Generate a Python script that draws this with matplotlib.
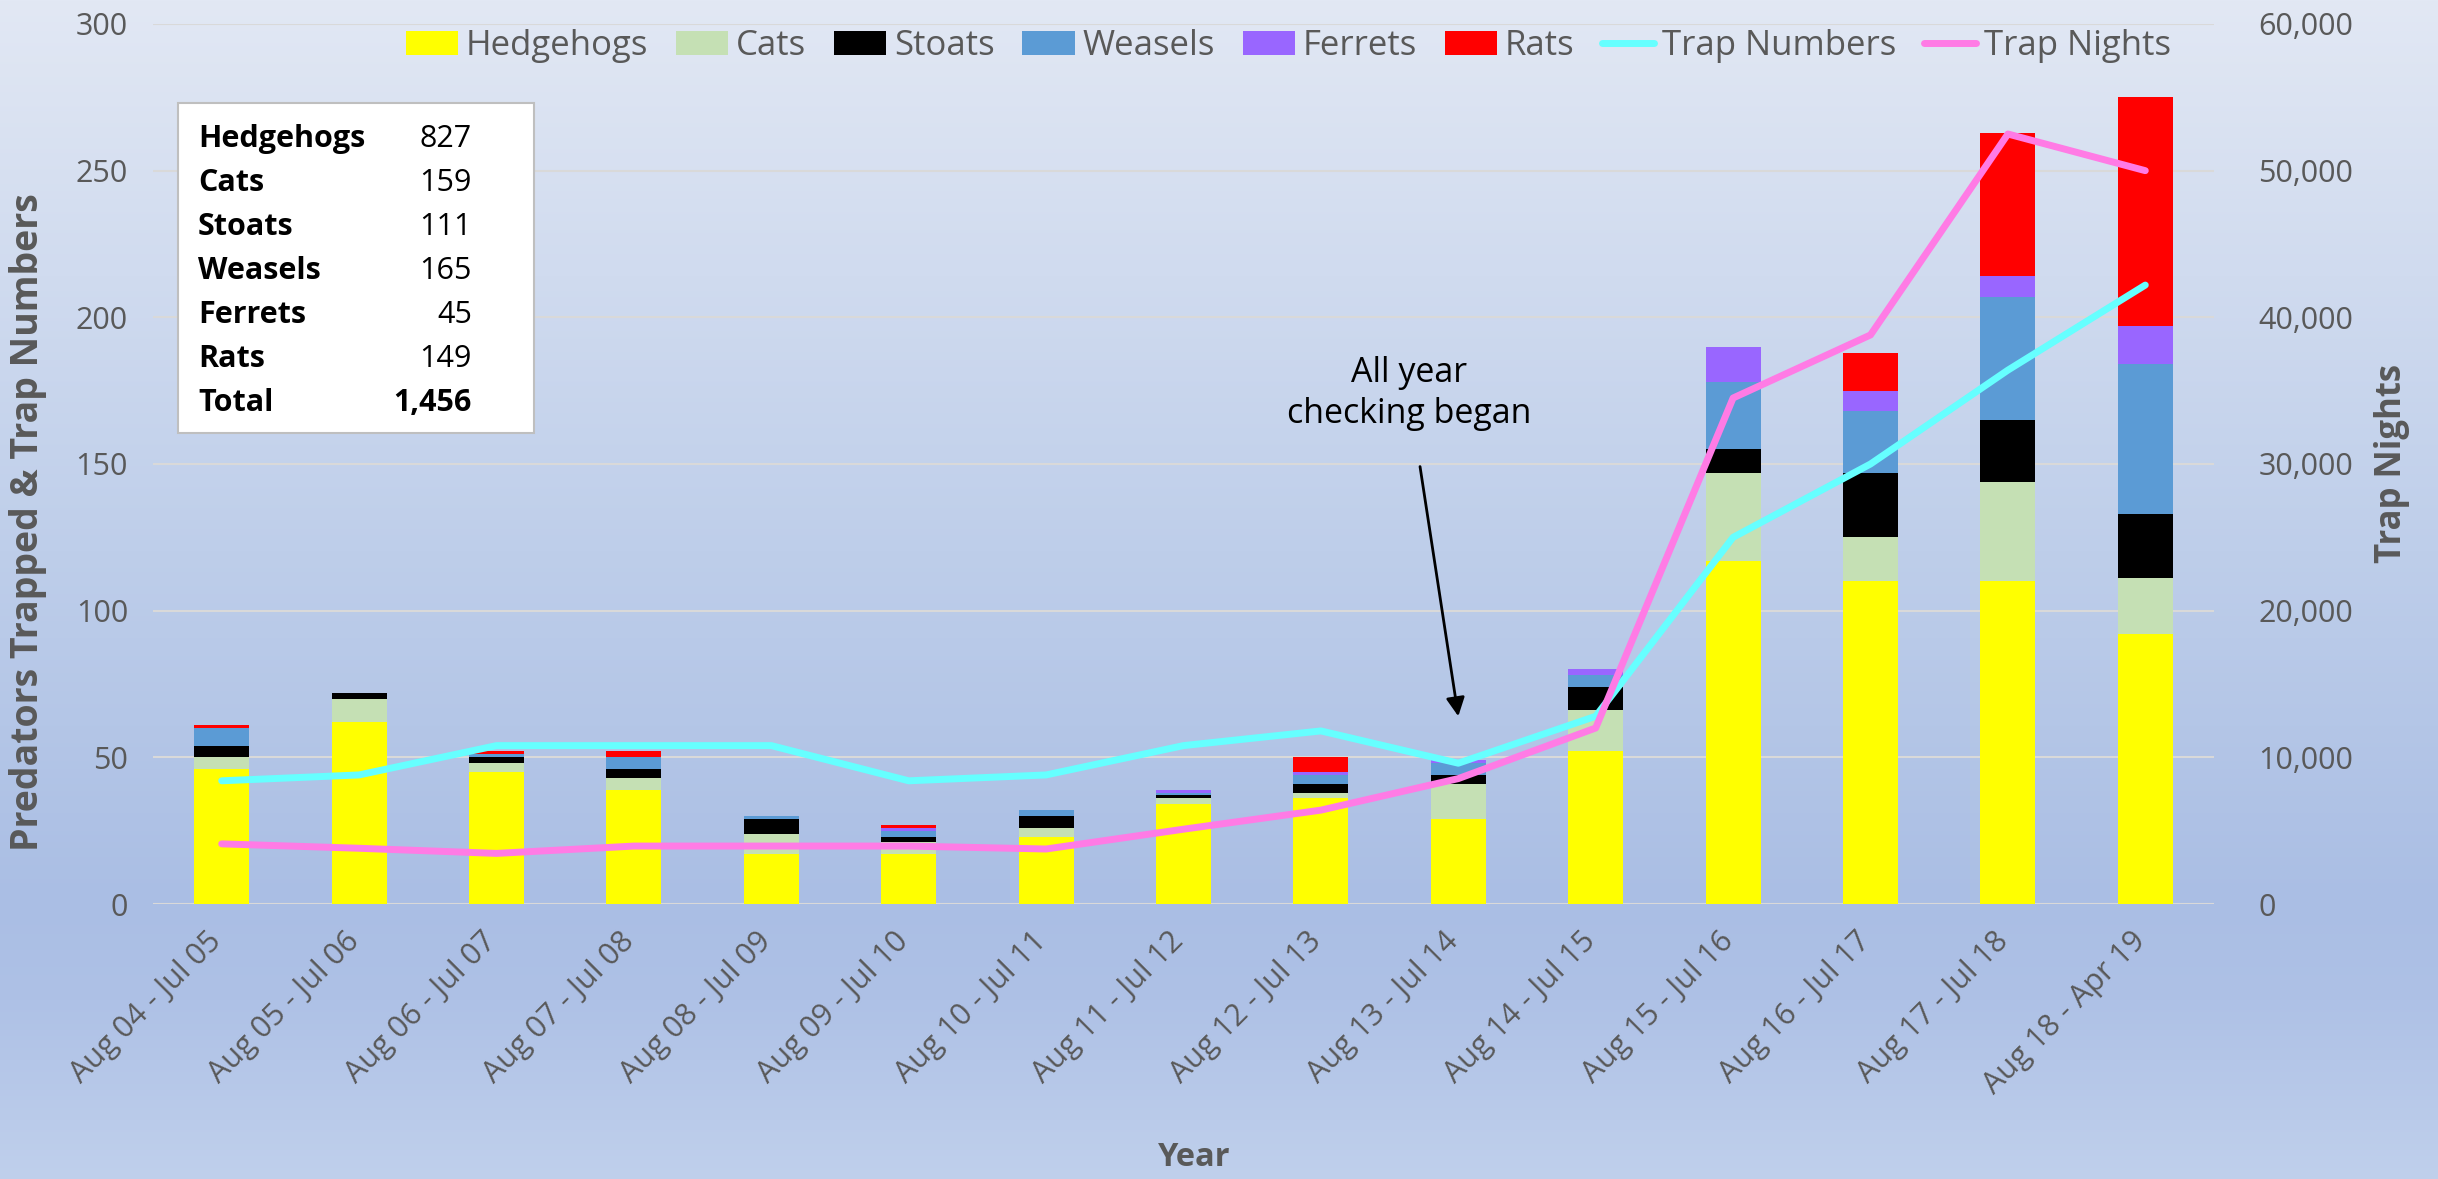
import numpy as np
import matplotlib
matplotlib.use("Agg")
import matplotlib.pyplot as plt
from matplotlib.patches import Patch
from matplotlib.lines import Line2D
from matplotlib.ticker import FuncFormatter, MultipleLocator
from matplotlib.transforms import ScaledTranslation

plt.rcParams['font.family'] = ['Open Sans', 'DejaVu Sans']

# data
years = ['Aug 04 - Jul 05', 'Aug 05 - Jul 06', 'Aug 06 - Jul 07', 'Aug 07 - Jul 08',
         'Aug 08 - Jul 09', 'Aug 09 - Jul 10', 'Aug 10 - Jul 11', 'Aug 11 - Jul 12',
         'Aug 12 - Jul 13', 'Aug 13 - Jul 14', 'Aug 14 - Jul 15', 'Aug 15 - Jul 16',
         'Aug 16 - Jul 17', 'Aug 17 - Jul 18', 'Aug 18 - Apr 19']
hedgehogs = [46, 62, 45, 39, 17, 17, 23, 34, 36, 29, 52, 117, 110, 110, 92]
cats      = [4, 8, 3, 4, 7, 4, 3, 2, 2, 12, 14, 30, 15, 34, 19]
stoats    = [4, 2, 2, 3, 5, 2, 4, 1, 3, 3, 8, 8, 22, 21, 22]
weasels   = [6, 0, 1, 4, 1, 2, 2, 1, 3, 4, 4, 23, 21, 42, 51]
ferrets   = [0, 0, 0, 0, 0, 1, 0, 1, 1, 1, 2, 12, 7, 7, 13]
rats      = [1, 0, 1, 2, 0, 1, 0, 0, 5, 0, 0, 0, 13, 49, 78]
trap_numbers = [42, 44, 54, 54, 54, 42, 44, 54, 59, 48, 64, 125, 150, 182, 211]
trap_nights  = [4100, 3800, 3450, 3950, 3950, 3950, 3750, 5100, 6400, 8550, 12000,
                34500, 38800, 52500, 50000]

species = ['Hedgehogs', 'Cats', 'Stoats', 'Weasels', 'Ferrets', 'Rats']
totals = ['827', '159', '111', '165', '45', '149']
grand_total = '1,456'

colors = ['#FFFF00', '#C5E0B4', '#000000', '#5B9BD5', '#9966FF', '#FF0000']
cyan = '#66FFFF'
pink = '#FF7BE5'
grey = '#595959'

W, H = 2438, 1179
fig = plt.figure(figsize=(W / 100, H / 100), dpi=100)

# background gradient (Excel style)
bg = fig.add_axes([0, 0, 1, 1], zorder=-10)
stops_y = [0, 550, 900, 1000, 1179]
stops_c = np.array([[226, 232, 244], [190, 206, 234], [170, 190, 228],
                    [174, 193, 230], [192, 208, 236]]) / 255
yy = np.arange(H)
grad = np.stack([np.interp(yy, stops_y, stops_c[:, k]) for k in range(3)], axis=-1)
bg.imshow(grad[:, None, :], aspect='auto', extent=[0, 1, 0, 1], origin='upper')
bg.axis('off')

ax = fig.add_axes([153 / W, 1 - 904 / H, (2214 - 153) / W, 880 / H])
ax.patch.set_alpha(0)
x = np.arange(len(years))

bottom = np.zeros(len(years))
series = [hedgehogs, cats, stoats, weasels, ferrets, rats]
for vals, c in zip(series, colors):
    ax.bar(x, vals, width=0.4, bottom=bottom, color=c, zorder=3)
    bottom += np.array(vals)

ax.plot(x, trap_numbers, color=cyan, lw=5, solid_capstyle='round',
        solid_joinstyle='round', zorder=4)

ax.set_xlim(-0.5, len(years) - 0.5)
ax.set_ylim(0, 300)
ax.yaxis.set_major_locator(MultipleLocator(50))
ax.grid(axis='y', color='#D9D9D9', lw=1.5, zorder=0)
ax.set_axisbelow(True)
for s in ax.spines.values():
    s.set_visible(False)
ax.tick_params(length=0, labelsize=22, labelcolor=grey, pad=18)
ax.set_xticks(x)
ax.set_xticklabels(years, rotation=45, ha='right', rotation_mode='anchor', fontsize=22)
ax.tick_params(axis='x', pad=16)
for lab in ax.get_xticklabels():
    lab.set_transform(lab.get_transform() + ScaledTranslation(-0.15, 0, fig.dpi_scale_trans))

ax2 = ax.twinx()
ax2.patch.set_alpha(0)
ax2.plot(x, trap_nights, color=pink, lw=5, solid_capstyle='round',
         solid_joinstyle='round', zorder=5)
ax2.set_ylim(0, 60000)
ax2.yaxis.set_major_locator(MultipleLocator(10000))
ax2.yaxis.set_major_formatter(FuncFormatter(lambda v, p: f'{v:,.0f}'))
for s in ax2.spines.values():
    s.set_visible(False)
ax2.tick_params(length=0, labelsize=22, labelcolor=grey, pad=32)

fig.text(28 / W, 1 - 522 / H, 'Predators Trapped & Trap Numbers', rotation=90,
         ha='center', va='center', fontsize=27, fontweight='bold', color=grey)
fig.text(2392 / W, 1 - 463 / H, 'Trap Nights', rotation=90,
         ha='center', va='center', fontsize=25, fontweight='bold', color=grey)
fig.text(1194 / W, 1 - 1158 / H, 'Year', ha='center', va='center',
         fontsize=23.5, fontweight='bold', color=grey)

# annotation
ax.annotate('All year\nchecking began', xy=(9.0, 64), xytext=(8.64, 174),
            ha='center', va='center', fontsize=24.5, color='black', linespacing=1.25,
            arrowprops=dict(arrowstyle='-|>', color='black', lw=2,
                            mutation_scale=28, shrinkA=24, shrinkB=0), zorder=6)

# totals box
box = plt.Rectangle((178 / W, 1 - 433 / H), (534 - 178) / W, (433 - 103) / H,
                    transform=fig.transFigure, facecolor='white',
                    edgecolor='#BFBFBF', lw=1.5, zorder=7)
fig.patches.append(box)
rows = species + ['Total']
vals = totals + [grand_total]
for i, (name, v) in enumerate(zip(rows, vals)):
    yb = 1 - (147 + 44 * i) / H
    fig.text(198 / W, yb, name, ha='left', va='baseline', fontsize=22,
             fontweight='bold', color='black', zorder=8)
    fig.text(472 / W, yb, v, ha='right', va='baseline', fontsize=22,
             fontweight='bold' if name == 'Total' else 'normal',
             color='black', zorder=8)

handles = [Patch(facecolor=c, label=n) for c, n in zip(colors, species)]
handles += [Line2D([], [], color=cyan, lw=5, solid_capstyle='round', label='Trap Numbers'),
            Line2D([], [], color=pink, lw=5, solid_capstyle='round', label='Trap Nights')]
leg = ax2.legend(handles=handles, loc='center', bbox_to_anchor=(0.551, 0.975),
                 ncol=8, frameon=False, fontsize=25, handlelength=1.5,
                 handleheight=0.7, handletextpad=0.23, columnspacing=0.8,
                 labelcolor=grey, borderpad=0)

fig.savefig('out.png', dpi=100)
